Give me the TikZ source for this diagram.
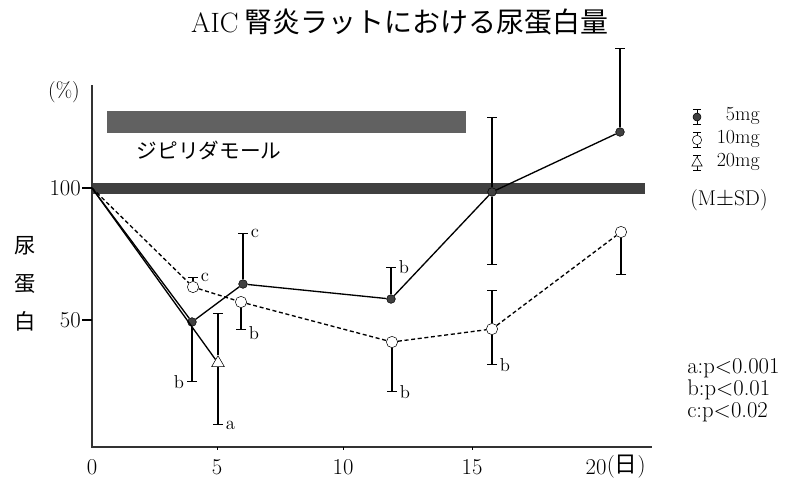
\documentclass[tikz,border=0pt]{standalone}
\usepackage{fontspec}
\newfontfamily\jp{Noto Sans CJK JP}
\usetikzlibrary{arrows.meta,shapes.geometric}

\begin{document}
\begin{tikzpicture}[x=0.75pt,y=-0.75pt,
   fdot/.style={circle,draw=black,fill=black!75,inner sep=0pt,minimum size=6.5pt},
   odot/.style={circle,draw=black,fill=white,inner sep=0pt,minimum size=8.5pt},
   tri/.style={regular polygon,regular polygon sides=3,draw=black,fill=white,inner sep=0pt,minimum size=11pt},
   ebar/.style={-{Bar[width=7.5pt]},line width=0.8pt},
   kbar/.style={{Bar[width=6pt]}-{Bar[width=6pt]},line width=0.7pt},
   sig/.style={font=\fontsize{14}{14}\selectfont,inner sep=1.5pt},
   txt/.style={font=\fontsize{15}{15}\selectfont,inner sep=0pt}
  ]
  \useasboundingbox (0,0) rectangle (795,486);
  % title and bands
  \node[font=\jp\fontsize{21}{21}\selectfont] (title) at (400,22) {{\rmfamily AIC} 腎炎ラットにおける尿蛋白量};
  \fill[black!62] (107,111) rectangle (466,133);
  \node[font=\jp\fontsize{15.5}{15.5}\selectfont] (drug) at (209,150) {ジピリダモール};
  \fill[black!75] (92,183) rectangle (645,194);
  % axes
  \draw[line width=1pt,black!80] (92,85) -- (92,447) -- (652,447);
  \draw[line width=0.8pt] (92,188) -- (82,188) (92,320) -- (82,320);
  \foreach \x/\d in {217/5,343/10,472/15}
    \draw[line width=0.6pt] (\x,447) -- (\x,450);
  \node[txt,font=\fontsize{16}{16}\selectfont] (pct) at (64,92) {(\%)};
  \node[txt,anchor=east,font=\fontsize{17}{17}\selectfont] (l100) at (81,188) {100};
  \node[txt,anchor=east,font=\fontsize{17}{17}\selectfont] (l50) at (81,320) {50};
  \node[font=\jp\fontsize{16}{28.5}\selectfont,align=center] (ylab) at (25,284) {尿\\蛋\\白};
  \foreach \x/\d in {92/0,217/5,343/10,472/15}
    \node[txt,font=\fontsize{17}{17}\selectfont] (lx\d) at (\x,467) {\d};
  \node[txt,font=\fontsize{17}{17}\selectfont] (lx20) at (596,467) {20};
  \node[txt,anchor=west,font=\fontsize{17}{17}\selectfont] (day) at (lx20.east) {({\jp 日})};
  % data points
  \coordinate (o) at (92,188);
  \node[fdot] (f1) at (192,322) {};
  \node[fdot] (f2) at (243,284) {};
  \node[fdot] (f3) at (391,299) {};
  \node[fdot] (f4) at (492,192) {};
  \node[fdot] (f5) at (620,132) {};
  \node[odot] (g1) at (193,287) {};
  \node[odot] (g2) at (241,302) {};
  \node[odot] (g3) at (392,342) {};
  \node[odot] (g4) at (492,329) {};
  \node[odot] (g5) at (621,232) {};
  \node[tri] (t1) at (218,363) {};
  % curves
  \draw[line width=1pt] (o) -- (f1) -- (f2) -- (f3) -- (f4) -- (f5);
  \draw[line width=1pt,dash pattern=on 3pt off 2pt] (o) -- (g1) -- (g2) -- (g3) -- (g4) -- (g5);
  \draw[line width=1pt] (o) -- (t1);
  % error bars
  \draw[ebar] (f1) -- ++(0,60) coordinate (f1lo) node[sig,anchor=east,xshift=-4pt] (s1) {b};
  \draw[ebar] (t1) -- ++(0,-50) coordinate (t1hi);
  \draw[ebar] (t1) -- ++(0,62) coordinate (t1lo) node[sig,anchor=west,xshift=4pt] (s2) {a};
  \draw[ebar] (f2) -- ++(0,-51) coordinate (f2hi) node[sig,anchor=west,xshift=4pt] (s3) {c};
  \draw[ebar] (g1) -- ++(0,-10) coordinate (g1hi) node[sig,anchor=west,xshift=4pt] (s4) {c};
  \draw[ebar] (g2) -- ++(0,28) coordinate (g2lo) node[sig,anchor=west,xshift=4pt,yshift=-2pt] (s5) {b};
  \draw[ebar] (f3) -- ++(0,-32) coordinate (f3hi) node[sig,anchor=west,xshift=4pt] (s6) {b};
  \draw[ebar] (g3) -- ++(0,50) coordinate (g3lo) node[sig,anchor=west,xshift=4pt] (s7) {b};
  \draw[ebar] (f4) -- ++(0,-75) coordinate (f4hi);
  \draw[ebar] (f4) -- ++(0,73) coordinate (f4lo);
  \draw[ebar] (g4) -- ++(0,-39) coordinate (g4hi);
  \draw[ebar] (g4) -- ++(0,36) coordinate (g4lo) node[sig,anchor=west,xshift=4pt] (s8) {b};
  \draw[ebar] (f5) -- ++(0,-84) coordinate (f5hi);
  \draw[ebar] (g5) -- ++(0,43) coordinate (g5lo);
  % legend
  \draw[kbar] (697,109) -- (697,125);
  \node[fdot,minimum size=6pt] (k5) at (697,117) {};
  \draw[kbar] (697,132) -- (697,148);
  \node[odot,minimum size=7pt] (k10) at (697,140) {};
  \draw[kbar] (697,155) -- (697,171);
  \node[tri,minimum size=9pt] (k20) at (697,163) {};
  \node[txt,anchor=east] (n5) at (760,116) {5mg};
  \node[txt,anchor=east] (n10) at (760,139) {10mg};
  \node[txt,anchor=east] (n20) at (760,162) {20mg};
  \node[txt,font=\fontsize{16}{16}\selectfont] (msd) at (729,200) {(M$\pm$SD)};
  \node[txt,anchor=west,font=\fontsize{17}{17}\selectfont] (pa) at (687,368) {a:p<0.001};
  \node[txt,anchor=west,font=\fontsize{17}{17}\selectfont] (pb) at (687,390) {b:p<0.01};
  \node[txt,anchor=west,font=\fontsize{17}{17}\selectfont] (pc) at (687,412) {c:p<0.02};
\end{tikzpicture}
\end{document}
